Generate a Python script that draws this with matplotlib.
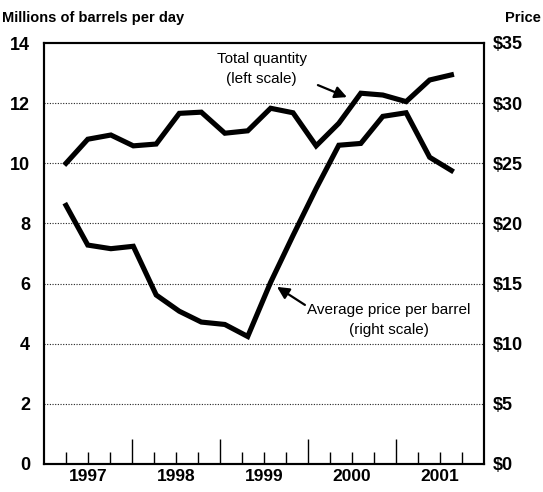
import matplotlib.pyplot as plt
import numpy as np

plt.rcParams['font.family'] = ['Liberation Sans', 'DejaVu Sans']

# quarter positions of the plotted points (in quarters from start of 1997)
quarter_pos = [1.0, 1.99, 3.04, 4.06, 5.1, 6.15, 7.15, 8.22, 9.26,
               10.3, 11.32, 12.37, 13.4, 14.4, 15.4, 16.46, 17.53, 18.52]
quantity = [10.0, 10.8, 10.94, 10.58, 10.64, 11.66, 11.7, 11.0, 11.08,
            11.83, 11.68, 10.58, 11.33, 12.33, 12.27, 12.05, 12.77, 12.94]
price = [21.5, 18.2, 17.9, 18.1, 14.05, 12.7, 11.8, 11.6, 10.6,
         15.1, 19.0, 22.9, 26.5, 26.65, 28.9, 29.2, 25.5, 24.4]
years = [1997, 1998, 1999, 2000, 2001]
left_ticks = [0, 2, 4, 6, 8, 10, 12, 14]
right_ticks = [0, 5, 10, 15, 20, 25, 30, 35]

x = 1997 + np.array(quarter_pos) / 4.0

fig = plt.figure(figsize=(5.43, 4.92), dpi=100)
ax = fig.add_axes([44 / 543, 28 / 492, 440 / 543, 421 / 492])
ax2 = ax.twinx()

ax.set_xlim(1997, 2002)
ax.set_ylim(0, 14)
ax2.set_ylim(0, 35)

# dotted gridlines
for v in left_ticks[1:-1]:
    ax.axhline(v, color='#222222', lw=0.8, ls=(0, (1, 1.4)), zorder=1)

ax.plot(x, quantity, color='black', lw=3.7, solid_joinstyle='miter', zorder=3)
ax2.plot(x, price, color='black', lw=3.7, solid_joinstyle='miter', zorder=3)

for a in (ax, ax2):
    for s in a.spines.values():
        s.set_linewidth(1.5)

ax.set_yticks(left_ticks)
ax.set_yticklabels([str(t) for t in left_ticks], fontsize=13, fontweight='bold')
ax.tick_params(axis='y', length=0, pad=10)
ax2.set_yticks(right_ticks)
ax2.set_yticklabels(['$%d' % t for t in right_ticks], fontsize=13, fontweight='bold')
ax2.tick_params(axis='y', length=0, pad=6)

# quarter ticks, longer at year boundaries
ax.set_xticks([y + 1 for y in years[:-1]])
ax.set_xticklabels([])
ax.set_xticks([y + q / 4 for y in years for q in (1, 2, 3)], minor=True)
ax.tick_params(axis='x', which='major', direction='in', length=18, width=1.0)
ax.tick_params(axis='x', which='minor', direction='in', length=9, width=1.0)

for y in years:
    ax.text(y + 0.5, -0.012, str(y), transform=ax.get_xaxis_transform(),
            ha='center', va='top', fontsize=12.5, fontweight='bold')

fig.text(0.004, 0.963, 'Millions of barrels per day', fontsize=10.5,
         fontweight='bold', ha='left', va='center')
fig.text(0.996, 0.963, 'Price', fontsize=10.5, fontweight='bold',
         ha='right', va='center')

# annotation texts and arrows
ax.text(1997 + 9.9 / 4, 13.13, 'Total quantity\n(left scale)', ha='center',
        va='center', fontsize=11, linespacing=1.5)
ax.annotate('', xy=(1997 + 13.77 / 4, 12.2), xytext=(1997 + 12.45 / 4, 12.6),
            arrowprops=dict(arrowstyle='-|>', color='black', lw=1.6,
                            mutation_scale=18, shrinkA=0, shrinkB=0))
ax.text(1997 + 15.68 / 4, 4.79, 'Average price per barrel\n(right scale)',
        ha='center', va='center', fontsize=11, linespacing=1.5)
ax.annotate('', xy=(1997 + 10.59 / 4, 5.89), xytext=(1997 + 11.86 / 4, 5.29),
            arrowprops=dict(arrowstyle='-|>', color='black', lw=1.6,
                            mutation_scale=18, shrinkA=0, shrinkB=0))

fig.savefig('out.png', dpi=100)
